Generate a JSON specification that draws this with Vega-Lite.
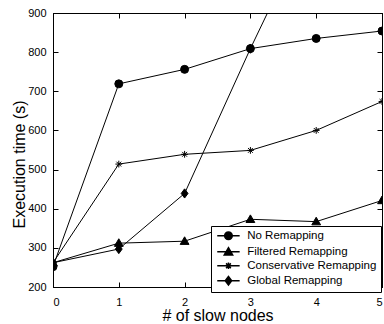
{
  "$schema": "https://vega.github.io/schema/vega-lite/v6.json",
  "width": 329,
  "height": 274,
  "autosize": {"type": "none"},
  "padding": {"left": 53, "top": 13, "right": 2, "bottom": 37},
  "config": {
    "font": "Liberation Sans",
    "view": {"stroke": "black", "strokeWidth": 1},
    "axis": {"grid": false, "domainColor": "black", "tickColor": "black", "labelColor": "black", "titleColor": "black", "labelFontSize": 11, "titleFontSize": 16, "titleFontWeight": "normal", "tickSize": -5, "domainWidth": 1, "tickWidth": 1}
  },
  "datasets": {
    "perf": [
      {"series": "Global Remapping", "x": 0, "y": 262},
      {"series": "Global Remapping", "x": 1, "y": 297},
      {"series": "Global Remapping", "x": 2, "y": 439},
      {"series": "Global Remapping", "x": 3, "y": 809},
      {"series": "Global Remapping", "x": 4, "y": 1160},
      {"series": "Global Remapping", "x": 5, "y": 1520},
      {"series": "Filtered Remapping", "x": 0, "y": 262},
      {"series": "Filtered Remapping", "x": 1, "y": 312},
      {"series": "Filtered Remapping", "x": 2, "y": 317},
      {"series": "Filtered Remapping", "x": 3, "y": 373},
      {"series": "Filtered Remapping", "x": 4, "y": 367},
      {"series": "Filtered Remapping", "x": 5, "y": 421},
      {"series": "Conservative Remapping", "x": 0, "y": 262},
      {"series": "Conservative Remapping", "x": 1, "y": 514},
      {"series": "Conservative Remapping", "x": 2, "y": 539},
      {"series": "Conservative Remapping", "x": 3, "y": 549},
      {"series": "Conservative Remapping", "x": 4, "y": 600},
      {"series": "Conservative Remapping", "x": 5, "y": 674},
      {"series": "No Remapping", "x": 0, "y": 252},
      {"series": "No Remapping", "x": 1, "y": 719},
      {"series": "No Remapping", "x": 2, "y": 756},
      {"series": "No Remapping", "x": 3, "y": 809},
      {"series": "No Remapping", "x": 4, "y": 835},
      {"series": "No Remapping", "x": 5, "y": 854}
    ]
  },
  "data": {"name": "perf"},
  "layer": [
    {
      "mark": {"type": "line", "color": "black", "strokeWidth": 1, "clip": true},
      "encoding": {
        "x": {"field": "x", "type": "quantitative", "scale": {"domain": [0, 5], "nice": false}, "axis": {"orient": "bottom", "values": [0, 1, 2, 3, 4, 5], "title": "# of slow nodes", "labelPadding": 14, "titleY": 33, "titleBaseline": "alphabetic"}},
        "y": {"field": "y", "type": "quantitative", "scale": {"domain": [200, 900], "nice": false, "zero": false}, "axis": {"orient": "left", "values": [200, 300, 400, 500, 600, 700, 800, 900], "title": "Execution time (s)", "labelPadding": 12, "titleX": -29, "titleY": 151, "titleAngle": -90, "titleAlign": "center", "titleBaseline": "alphabetic"}},
        "detail": {"field": "series"}
      }
    },
    {
      "mark": {"type": "point", "filled": true, "fill": "black", "stroke": "black", "strokeWidth": 1, "opacity": 1, "size": 64, "clip": true},
      "encoding": {
        "x": {"field": "x", "type": "quantitative", "axis": {"orient": "top", "values": [0, 1, 2, 3, 4, 5], "labels": false, "title": null}},
        "y": {"field": "y", "type": "quantitative", "axis": {"orient": "right", "values": [200, 300, 400, 500, 600, 700, 800, 900], "labels": false, "title": null}},
        "shape": {
          "field": "series",
          "type": "nominal",
          "legend": null,
          "scale": {
            "domain": ["No Remapping", "Filtered Remapping", "Conservative Remapping", "Global Remapping"],
            "range": [
              "circle",
              "M0,-1.1L1.1,0.8L-1.1,0.8Z",
              "M-0.85,0H0.85M0,-0.85V0.85M-0.6,-0.6L0.6,0.6M-0.6,0.6L0.6,-0.6",
              "M0,-1.15L0.85,0L0,1.15L-0.85,0Z"
            ]
          }
        }
      }
    },
    {
      "transform": [{"filter": "datum.x > 100"}],
      "mark": {"type": "point", "filled": true, "fill": "black", "stroke": "black", "strokeWidth": 1, "opacity": 1},
      "encoding": {
        "x": {"field": "x", "type": "quantitative", "axis": null},
        "y": {"field": "y", "type": "quantitative", "axis": null},
        "shape": {
          "field": "series",
          "type": "nominal",
          "title": null,
          "scale": {
            "domain": ["No Remapping", "Filtered Remapping", "Conservative Remapping", "Global Remapping"],
            "range": [
              "M-2.8,0H2.8M-0.95,0A0.95,0.95,0,1,1,0.95,0A0.95,0.95,0,1,1,-0.95,0Z",
              "M-2.8,0H2.8M0,-1L1.05,0.8L-1.05,0.8Z",
              "M-2.8,0H2.8M0,-0.8V0.8M-0.6,-0.6L0.6,0.6M-0.6,0.6L0.6,-0.6",
              "M-2.8,0H2.8M0,-1.05L0.8,0L0,1.05L-0.8,0Z"
            ]
          },
          "legend": {
            "orient": "none",
            "legendX": 158,
            "legendY": 213,
            "strokeColor": "black",
            "fillColor": "white",
            "padding": 4,
            "symbolSize": 64,
            "symbolOffset": 7.7,
            "labelOffset": 13,
            "labelFontSize": 11.5,
            "labelColor": "black",
            "rowPadding": 1,
            "labelLimit": 300,
            "labelExpr": "datum.label + '  '",
            "encode": {
              "symbols": {
                "update": {
                  "fill": {"value": "black"},
                  "stroke": {"value": "black"},
                  "strokeWidth": {"value": 1},
                  "opacity": {"value": 1}
                }
              }
            }
          }
        }
      }
    }
  ],
  "resolve": {"scale": {"shape": "independent"}, "axis": {"x": "independent", "y": "independent"}}
}
